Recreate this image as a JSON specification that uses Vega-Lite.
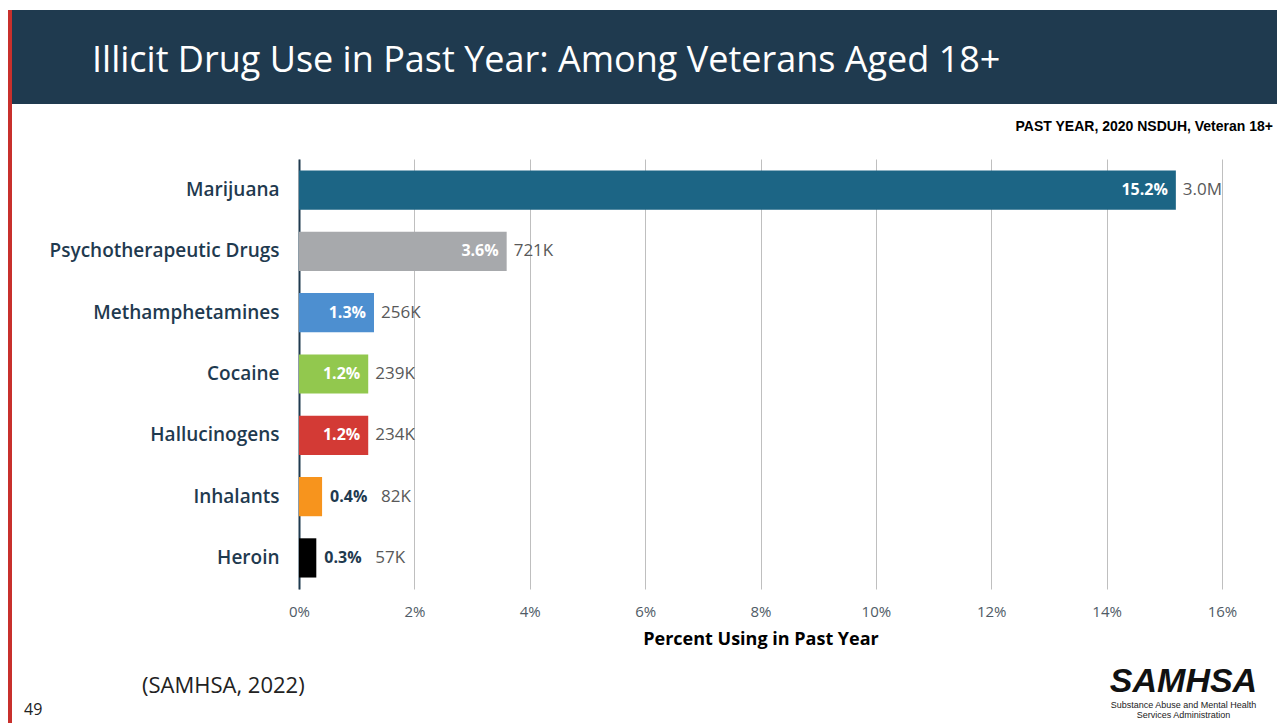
{
  "$schema": "https://vega.github.io/schema/vega-lite/v6.json",
  "background": "white",
  "padding": {"left": 8, "top": 10, "right": 0, "bottom": 0},
  "autosize": {"type": "pad"},
  "config": {"view": {"stroke": null}, "font": "Open Sans"},
  "spacing": 0,
  "hconcat": [
    {
      "width": 4,
      "height": 713,
      "view": {"fill": "#c8302c", "stroke": null},
      "data": {"values": []},
      "mark": "point"
    },
    {
      "columns": 1,
      "spacing": 15,
      "concat": [
        {
          "width": 1265,
          "height": 94,
          "view": {"fill": "#1f3a4f", "stroke": null},
          "data": {"values": []},
          "mark": "point",
          "title": {
            "text": "Illicit Drug Use in Past Year: Among Veterans Aged 18+",
            "orient": "top", "anchor": "start", "frame": "group",
            "offset": -70, "dx": 80,
            "font": "Open Sans", "fontSize": 36, "fontWeight": "normal", "color": "#ffffff"
          }
        },
        {
          "spacing": 0,
          "hconcat": [
            {
              "width": 1,
              "height": 430,
              "data": {"values": []},
              "mark": "point"
            },
            {
              "width": 923,
              "height": 430,
              "data": {"values": [
                {"drug": "Marijuana", "pct": 0.152, "count": "3.0M"},
                {"drug": "Psychotherapeutic Drugs", "pct": 0.036, "count": "721K"},
                {"drug": "Methamphetamines", "pct": 0.013, "count": "256K"},
                {"drug": "Cocaine", "pct": 0.012, "count": "239K"},
                {"drug": "Hallucinogens", "pct": 0.012, "count": "234K"},
                {"drug": "Inhalants", "pct": 0.004, "count": "82K"},
                {"drug": "Heroin", "pct": 0.003, "count": "57K"}
              ]},
              "title": {
                "text": "PAST YEAR, 2020 NSDUH, Veteran 18+",
                "orient": "top", "anchor": "end", "frame": "group",
                "offset": 25.5, "dx": 51,
                "font": "Liberation Sans Narrow, Liberation Sans, sans-serif",
                "fontSize": 14, "fontWeight": "bold", "color": "#000000"
              },
              "encoding": {
                "y": {
                  "field": "drug", "type": "nominal", "sort": null,
                  "scale": {"paddingInner": 0.36, "paddingOuter": 0.187},
                  "axis": {
                    "title": "\u00a0", "titleAngle": 0, "titleAlign": "left", "titleBaseline": "top",
                    "titleX": -286, "titleY": 200, "titleFontSize": 10,
                    "domain": true, "domainColor": "#1f3a4f", "domainWidth": 2,
                    "ticks": false, "grid": false, "labelPadding": 20, "labelLimit": 400,
                    "labelFont": "Open Sans", "labelFontSize": 19, "labelFontWeight": 600, "labelColor": "#1f3a4f"
                  }
                },
                "x": {
                  "field": "pct", "type": "quantitative",
                  "scale": {"domain": [0, 0.16], "nice": false},
                  "axis": {
                    "values": [0, 0.02, 0.04, 0.06, 0.08, 0.1, 0.12, 0.14, 0.16],
                    "format": ".0%", "grid": true, "gridColor": "#bfbfbf", "gridWidth": 1,
                    "domain": false, "ticks": false, "labelPadding": 15, "labelFlush": false,
                    "labelFont": "Open Sans", "labelFontSize": 15, "labelColor": "#4f5b66",
                    "title": "Percent Using in Past Year", "titleFont": "Open Sans", "titleFontSize": 18,
                    "titleFontWeight": "bold", "titleColor": "#000000", "titlePadding": 11
                  }
                }
              },
              "layer": [
                {
                  "mark": {"type": "bar"},
                  "encoding": {
                    "color": {
                      "field": "drug", "type": "nominal", "legend": null,
                      "scale": {
                        "domain": ["Marijuana", "Psychotherapeutic Drugs", "Methamphetamines", "Cocaine", "Hallucinogens", "Inhalants", "Heroin"],
                        "range": ["#1c6585", "#a7a9ac", "#4d8fd0", "#92c84e", "#d33a35", "#f7941d", "#000000"]
                      }
                    }
                  }
                },
                {
                  "transform": [{"filter": "datum.pct >= 0.01"}],
                  "mark": {"type": "text", "align": "right", "dx": -8, "color": "#ffffff", "font": "Open Sans", "fontSize": 16, "fontWeight": "bold"},
                  "encoding": {"text": {"field": "pct", "type": "quantitative", "format": ".1%"}}
                },
                {
                  "transform": [{"filter": "datum.pct < 0.01"}],
                  "mark": {"type": "text", "align": "left", "dx": 8, "color": "#1f3a4f", "font": "Open Sans", "fontSize": 16, "fontWeight": "bold"},
                  "encoding": {"text": {"field": "pct", "type": "quantitative", "format": ".1%"}}
                },
                {
                  "transform": [{"filter": "datum.pct >= 0.01"}],
                  "mark": {"type": "text", "align": "left", "dx": 7, "color": "#595959", "font": "Open Sans", "fontSize": 17},
                  "encoding": {"text": {"field": "count", "type": "nominal"}}
                },
                {
                  "transform": [{"filter": "datum.pct < 0.01"}],
                  "mark": {"type": "text", "align": "left", "dx": 59, "color": "#595959", "font": "Open Sans", "fontSize": 17},
                  "encoding": {"text": {"field": "count", "type": "nominal"}}
                }
              ]
            }
          ]
        },
        {
          "spacing": 0,
          "hconcat": [
            {
              "width": 130, "height": 60,
              "data": {"values": []},
              "mark": "point",
              "title": {"text": "49", "orient": "top", "anchor": "start", "frame": "group", "dx": 12, "offset": -55,
                "font": "Open Sans", "fontSize": 16, "fontWeight": "normal", "color": "#222222"}
            },
            {
              "width": 958, "height": 60,
              "data": {"values": []},
              "mark": "point",
              "title": {"text": "(SAMHSA, 2022)", "orient": "top", "anchor": "start", "frame": "group", "dx": 0, "offset": -35,
                "font": "Open Sans", "fontSize": 22, "fontWeight": "normal", "color": "#222222"}
            },
            {
              "width": 177, "height": 60,
              "data": {"values": []},
              "mark": "point",
              "title": {
                "text": "SAMHSA",
                "subtitle": ["Substance Abuse and Mental Health", "Services Administration"],
                "orient": "top", "anchor": "middle", "frame": "group", "dx": -5, "offset": -57,
                "font": "Liberation Sans", "fontSize": 34, "fontStyle": "italic", "fontWeight": 900, "color": "#111111",
                "subtitleFont": "Liberation Sans Narrow, Liberation Sans", "subtitleFontSize": 9, "subtitleColor": "#222222",
                "subtitlePadding": 2, "subtitleLineHeight": 10
              }
            }
          ]
        }
      ]
    }
  ]
}
